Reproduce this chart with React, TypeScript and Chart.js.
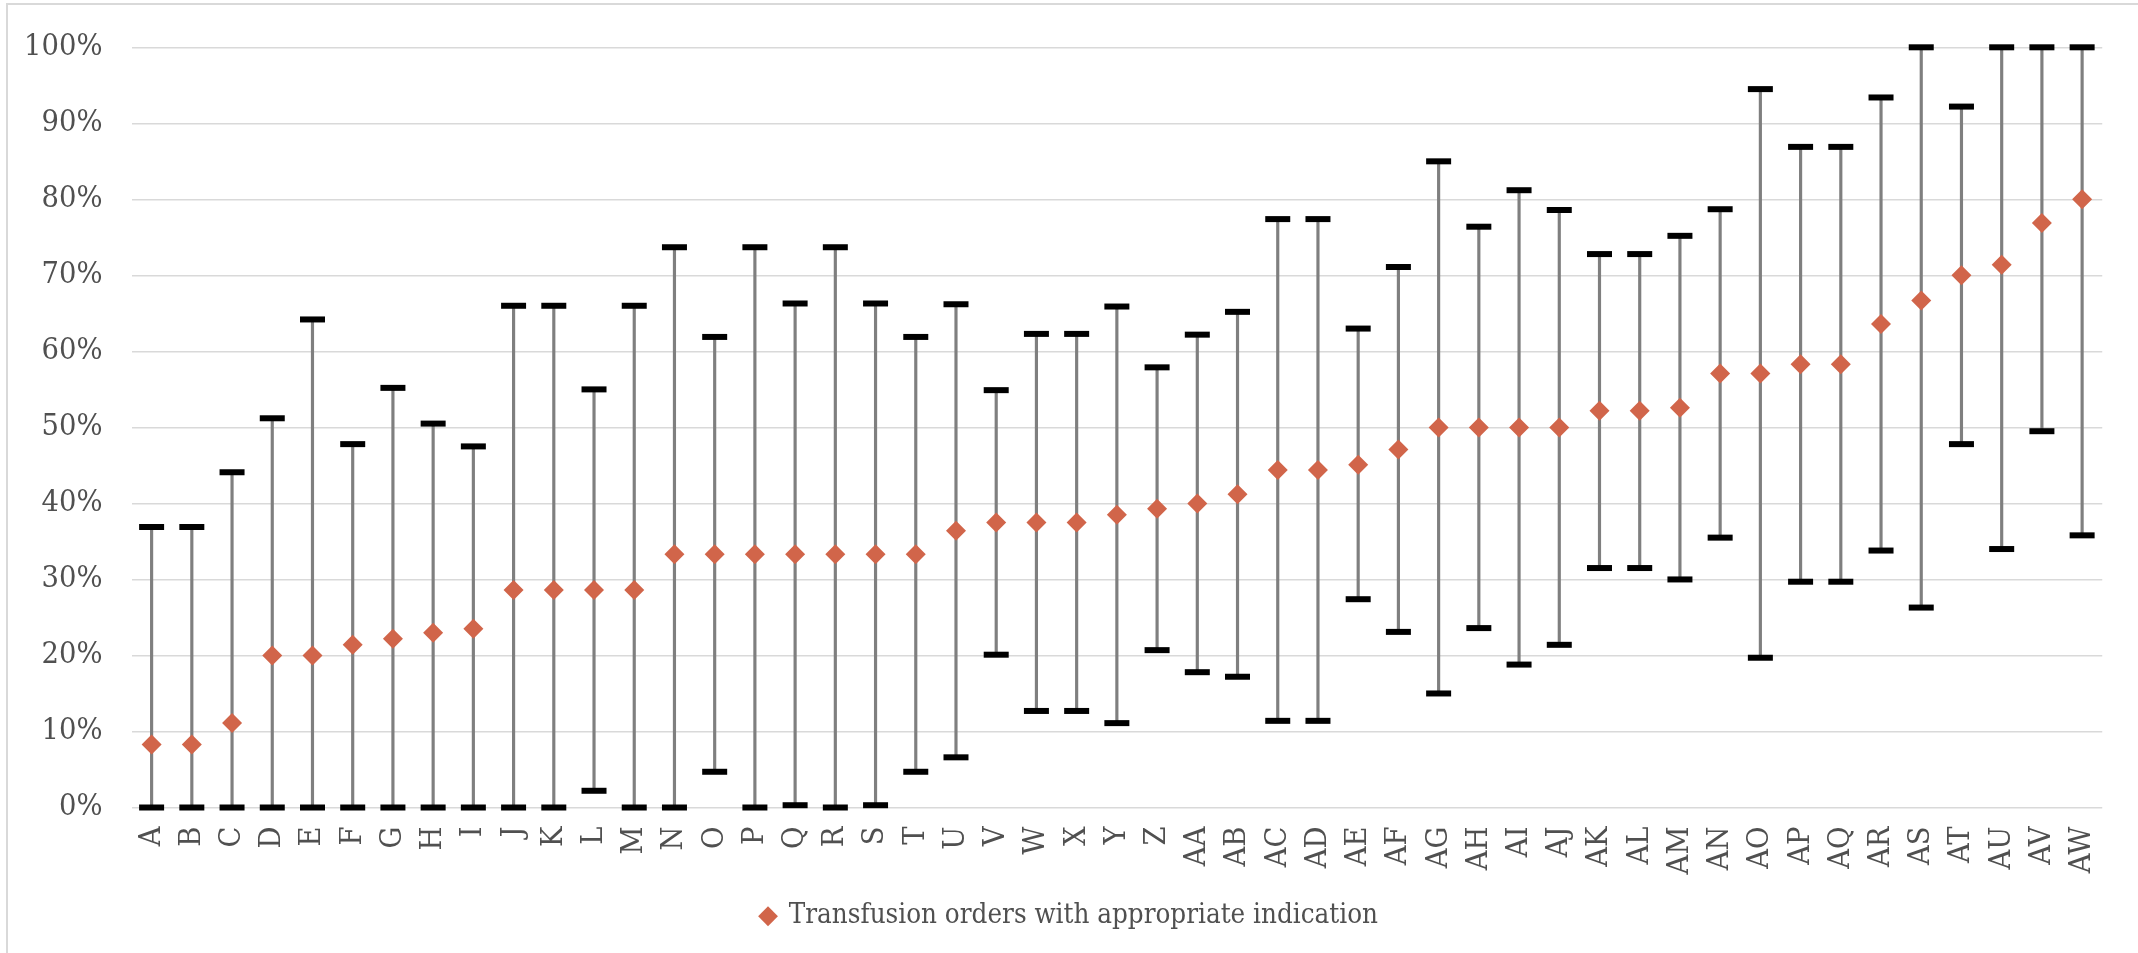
import React, { useEffect, useRef } from "react";
import { Chart, registerables } from "chart.js";

Chart.register(...registerables);

const categories = [
  "A", "B", "C", "D", "E", "F", "G", "H", "I", "J",
  "K", "L", "M", "N", "O", "P", "Q", "R", "S", "T", "U", "V", "W",
  "X", "Y", "Z", "AA", "AB", "AC", "AD", "AE", "AF", "AG", "AH", "AI", "AJ",
  "AK", "AL", "AM", "AN", "AO", "AP", "AQ", "AR", "AS", "AT", "AU", "AV", "AW",
];

// % of transfusion orders with appropriate indication
const rate = [
  8.3, 8.3, 11.1, 20.0, 20.0, 21.4, 22.2, 23.0, 23.5, 28.6,
  28.6, 28.6, 28.6, 33.3, 33.3, 33.3, 33.3, 33.3, 33.3, 33.3, 36.4, 37.5, 37.5,
  37.5, 38.5, 39.3, 40.0, 41.2, 44.4, 44.4, 45.1, 47.1, 50.0, 50.0, 50.0, 50.0,
  52.2, 52.2, 52.6, 57.1, 57.1, 58.3, 58.3, 63.6, 66.7, 70.0, 71.4, 76.9, 80.0,
];

// lower bound of the interval
const lower = [
  0, 0, 0, 0, 0, 0, 0, 0, 0, 0,
  0, 2.2, 0, 0, 4.7, 0, 0.3, 0, 0.3, 4.7, 6.6, 20.1, 12.7,
  12.7, 11.1, 20.7, 17.8, 17.2, 11.4, 11.4, 27.4, 23.1, 15.0, 23.6, 18.8, 21.4,
  31.5, 31.5, 30.0, 35.5, 19.7, 29.7, 29.7, 33.8, 26.3, 47.8, 34.0, 49.5, 35.8,
];

// upper bound of the interval
const upper = [
  36.9, 36.9, 44.1, 51.2, 64.2, 47.8, 55.2, 50.5, 47.5, 66.0,
  66.0, 55.0, 66.0, 73.7, 61.9, 73.7, 66.3, 73.7, 66.3, 61.9, 66.2, 54.9, 62.3,
  62.3, 65.9, 57.9, 62.2, 65.2, 77.4, 77.4, 63.0, 71.1, 85.0, 76.4, 81.2, 78.6,
  72.8, 72.8, 75.2, 78.7, 94.5, 86.9, 86.9, 93.4, 100, 92.2, 100, 100, 100,
];

const seriesLabel = "Transfusion orders with appropriate indication";
const yMin = 0;
const yMax = 100;
const yStep = 10;

const ORANGE = "#D1654A";
const FONT = "'DejaVu Serif Condensed', 'DejaVu Serif', serif";
const TEXT = "#505050";

const shiftLegend = {
  id: "shiftLegend",
  afterLayout(chart: any) {
    const lg = chart.legend;
    if (lg) {
      lg.left += 14;
      lg.right += 14;
    }
  },
};

export default function App() {
  const ref = useRef<HTMLCanvasElement | null>(null);

  useEffect(() => {
    const canvas = ref.current;
    if (!canvas) return;
    const chart = new Chart(canvas, {
      type: "bar",
      data: {
        labels: categories,
        datasets: [
          {
            type: "line",
            label: seriesLabel,
            data: rate,
            showLine: false,
            pointStyle: "rectRot",
            pointRadius: 10,
            pointHoverRadius: 10,
            pointBorderWidth: 0,
            backgroundColor: ORANGE,
            borderColor: ORANGE,
            pointBackgroundColor: ORANGE,
            pointBorderColor: ORANGE,
            clip: false,
          } as any,
          {
            type: "line",
            label: "upper",
            data: upper,
            showLine: false,
            pointStyle: "line",
            pointRadius: 12.5,
            pointHoverRadius: 12.5,
            pointBorderWidth: 6,
            pointBorderColor: "#000000",
            borderColor: "#000000",
            clip: false,
          } as any,
          {
            type: "line",
            label: "lower",
            data: lower,
            showLine: false,
            pointStyle: "line",
            pointRadius: 12.5,
            pointHoverRadius: 12.5,
            pointBorderWidth: 6,
            pointBorderColor: "#000000",
            borderColor: "#000000",
            clip: false,
          } as any,
          {
            type: "bar",
            label: "range",
            data: lower.map((l, i) => [l, upper[i]]),
            backgroundColor: "#7f7f7f",
            barThickness: 2.5,
            clip: false,
          } as any,
        ],
      },
      options: {
        animation: false,
        responsive: false,
        devicePixelRatio: 1,
        layout: { padding: { left: 0, right: 27, top: 35, bottom: 13 } },
        plugins: {
          tooltip: { enabled: false },
          legend: {
            position: "bottom",
            labels: {
              usePointStyle: true,
              boxWidth: 14,
              boxHeight: 14,
              padding: 10,
              color: TEXT,
              font: { family: FONT, size: 27.5 },
              filter: (item: any) => item.datasetIndex === 0,
            },
          },
        },
        scales: {
          x: {
            offset: true,
            grid: { display: false, drawTicks: false },
            border: { display: false },
            ticks: {
              autoSkip: false,
              minRotation: 90,
              maxRotation: 90,
              padding: 19,
              color: TEXT,
              font: { family: FONT, size: 30.5 },
            },
            afterFit: (s: any) => {
              s.height = 85;
            },
          },
          y: {
            min: yMin,
            max: yMax,
            grid: { color: "#d9d9d9", lineWidth: 1.5, drawTicks: false },
            border: { display: false },
            ticks: {
              stepSize: yStep,
              padding: 29,
              color: TEXT,
              font: { family: FONT, size: 30.5 },
              callback: (v: any) => `${v}%`,
            },
            afterFit: (s: any) => {
              s.width = 131.5;
            },
          },
        },
      },
      plugins: [shiftLegend],
    });
    return () => chart.destroy();
  }, []);

  return (
    <div
      style={{
        position: "fixed",
        left: 0,
        top: 0,
        width: 2138,
        height: 953,
        overflow: "hidden",
        background: "#ffffff",
      }}
    >
      <div
        style={{
          position: "absolute",
          left: 6,
          top: 3,
          width: 2200,
          height: 1000,
          border: "2px solid #d9d9d9",
        }}
      />
      <canvas
        ref={ref}
        width={2138}
        height={953}
        style={{ position: "absolute", left: 0, top: 0, width: 2138, height: 953 }}
      />
    </div>
  );
}
